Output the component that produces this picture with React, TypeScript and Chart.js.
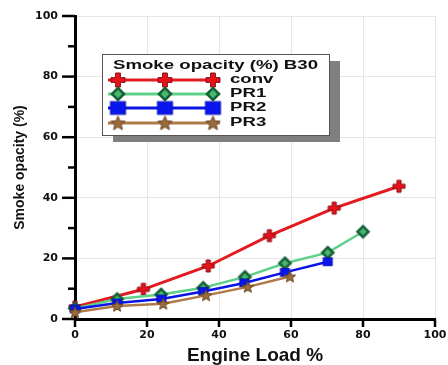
import React, { useEffect, useRef } from 'react';
import { Chart, registerables } from 'chart.js';
Chart.register(...registerables);

const LEGEND_TITLE = 'Smoke opacity (%) B30';
const X_TITLE = 'Engine Load %';
const Y_TITLE = 'Smoke opacity (%)';
const SERIES_NAMES = ['conv', 'PR1', 'PR2', 'PR3'];

const CONV_X = [0, 19, 37, 54, 72, 90];
const CONV_Y = [4, 9.8, 17.5, 27.5, 36.6, 43.8];
const PR1_X = [0, 11.7, 23.9, 35.6, 47.2, 58.3, 70.2, 80];
const PR1_Y = [3.5, 6.6, 8.1, 10.3, 13.9, 18.4, 21.9, 28.8];
const PR2_X = [0, 11.7, 24, 35.6, 47, 58.3, 70.2];
const PR2_Y = [3.3, 5.3, 6.6, 9.1, 11.9, 15.4, 18.9];
const PR3_X = [0, 11.7, 24.5, 36.4, 48, 59.7];
const PR3_Y = [2.2, 4.3, 5.0, 7.8, 10.6, 14.0];

const X_TICKS = [0, 20, 40, 60, 80, 100];
const Y_MAJOR_STEP = 20;
const Y_MINOR_STEP = 10;

const FONT = '"Liberation Sans", Arial, sans-serif';
const TICK_FONT = '"DejaVu Sans", "Liberation Sans", sans-serif';

type Kind = 'plus' | 'diamond' | 'square' | 'star';

function makeMarker(kind: Kind, s: number): HTMLCanvasElement {
  const pad = 3;
  const c = document.createElement('canvas');
  const size = Math.ceil(s + pad * 2);
  c.width = size;
  c.height = size;
  const g = c.getContext('2d')!;
  const m = size / 2;
  const r = s / 2;
  g.lineJoin = 'miter';
  if (kind === 'plus') {
    const t = s * 0.17;
    g.beginPath();
    g.moveTo(m - t, m - r);
    g.lineTo(m + t, m - r);
    g.lineTo(m + t, m - t);
    g.lineTo(m + r, m - t);
    g.lineTo(m + r, m + t);
    g.lineTo(m + t, m + t);
    g.lineTo(m + t, m + r);
    g.lineTo(m - t, m + r);
    g.lineTo(m - t, m + t);
    g.lineTo(m - r, m + t);
    g.lineTo(m - r, m - t);
    g.lineTo(m - t, m - t);
    g.closePath();
    g.fillStyle = '#e5121b';
    g.fill();
    g.strokeStyle = '#8c1015';
    g.lineWidth = 1;
    g.stroke();
  } else if (kind === 'diamond') {
    g.beginPath();
    g.moveTo(m, m - r);
    g.lineTo(m + r, m);
    g.lineTo(m, m + r);
    g.lineTo(m - r, m);
    g.closePath();
    g.fillStyle = '#49b86a';
    g.fill();
    g.strokeStyle = '#17623a';
    g.lineWidth = 2.6;
    g.stroke();
  } else if (kind === 'square') {
    g.fillStyle = '#0a16ee';
    g.fillRect(m - r, m - r * 0.85, s, s * 0.85);
    g.strokeStyle = '#0610b0';
    g.lineWidth = 1;
    g.strokeRect(m - r, m - r * 0.85, s, s * 0.85);
  } else {
    g.beginPath();
    for (let i = 0; i < 10; i++) {
      const ang = -Math.PI / 2 + (i * Math.PI) / 5;
      const rr = i % 2 === 0 ? r : r * 0.45;
      const px = m + rr * Math.cos(ang);
      const py = m + rr * Math.sin(ang) + r * 0.08;
      if (i === 0) g.moveTo(px, py);
      else g.lineTo(px, py);
    }
    g.closePath();
    g.fillStyle = '#9a6b3c';
    g.fill();
    g.strokeStyle = '#6a4522';
    g.lineWidth = 1;
    g.stroke();
  }
  return c;
}

function zip(xs: number[], ys: number[]) {
  return xs.map((x, i) => ({ x, y: ys[i] }));
}

export default function App() {
  const ref = useRef<HTMLCanvasElement>(null);

  useEffect(() => {
    document.body.style.margin = '0';
    const canvas = ref.current!;
    const kinds: Kind[] = ['plus', 'diamond', 'square', 'star'];
    const lineColors = ['#e31a1f', '#5fd08a', '#0a14e6', '#b07a48'];
    const plotSizes = [12, 11, 9, 12];
    const legendSizes = [14, 12, 15, 15];
    const lineWidths = [3, 2.5, 2.5, 2.5];
    const xs = [CONV_X, PR1_X, PR2_X, PR3_X];
    const ys = [CONV_Y, PR1_Y, PR2_Y, PR3_Y];

    const datasets = SERIES_NAMES.map((name, i) => ({
      label: name,
      data: zip(xs[i], ys[i]),
      borderColor: lineColors[i],
      backgroundColor: lineColors[i],
      borderWidth: lineWidths[i],
      pointStyle: makeMarker(kinds[i], plotSizes[i]),
      pointRadius: plotSizes[i] / 2,
      tension: 0,
      clip: false as const,
    }));

    const axisPlugin = {
      id: 'axisTicks',
      afterDraw(chart: any) {
        const ctx = chart.ctx;
        const xs_ = chart.scales.x;
        const ys_ = chart.scales.y;
        const area = chart.chartArea;
        ctx.save();
        ctx.strokeStyle = '#000';
        ctx.lineWidth = 2.5;
        ctx.lineCap = 'butt';
        for (let v = 0; v <= 100; v += Y_MINOR_STEP) {
          const py = ys_.getPixelForValue(v);
          const len = v % Y_MAJOR_STEP === 0 ? 13 : 7;
          ctx.beginPath();
          ctx.moveTo(area.left - len, py);
          ctx.lineTo(area.left, py);
          ctx.stroke();
        }
        for (const v of X_TICKS) {
          const px = xs_.getPixelForValue(v);
          ctx.beginPath();
          ctx.moveTo(px, area.bottom);
          ctx.lineTo(px, area.bottom + 8);
          ctx.stroke();
        }
        // legend
        const bx = area.left + 27;
        const by = area.top + 38;
        const bw = 227;
        const bh = 81;
        ctx.fillStyle = '#7f7f7f';
        ctx.fillRect(bx + 11, by + 7, bw, bh);
        ctx.fillStyle = '#ffffff';
        ctx.fillRect(bx, by, bw, bh);
        ctx.strokeStyle = '#555';
        ctx.lineWidth = 1;
        ctx.strokeRect(bx + 0.5, by + 0.5, bw, bh);

        ctx.textBaseline = 'middle';
        ctx.textAlign = 'left';
        ctx.font = `bold 12px ${FONT}`;
        const w0 = ctx.measureText(LEGEND_TITLE).width;
        const sx = 205 / w0;
        const drawStretched = (text: string, x: number, y: number) => {
          ctx.save();
          ctx.translate(x, y);
          ctx.scale(sx, 1);
          ctx.fillStyle = '#111';
          ctx.fillText(text, 0, 0);
          ctx.restore();
        };
        drawStretched(LEGEND_TITLE, bx + 11, by + 12);
        const rowYs = [26, 40, 54, 69];
        datasets.forEach((ds, i) => {
          const ry = by + rowYs[i];
          ctx.strokeStyle = lineColors[i];
          ctx.lineWidth = 3;
          ctx.beginPath();
          ctx.moveTo(bx + 6, ry);
          ctx.lineTo(bx + 118, ry);
          ctx.stroke();
          const mk = makeMarker(kinds[i], legendSizes[i]);
          for (const mx of [16, 63, 111]) {
            ctx.drawImage(mk, bx + mx - mk.width / 2, ry - mk.height / 2);
          }
          drawStretched(ds.label, bx + 128, ry);
        });
        ctx.restore();
      },
    };

    const chart = new Chart(canvas, {
      type: 'line',
      data: { datasets: [datasets[3], datasets[2], datasets[1], datasets[0]] },
      options: {
        animation: false,
        responsive: false,
        devicePixelRatio: 1,
        layout: { padding: { top: 16, right: 13, left: 0, bottom: 0 } },
        plugins: { legend: { display: false }, tooltip: { enabled: false } },
        scales: {
          x: {
            type: 'linear',
            min: 0,
            max: 100,
            afterFit: (s: any) => {
              s.height = 46;
              s.paddingLeft = 0;
              s.paddingRight = 0;
            },
            afterBuildTicks: (s: any) => {
              s.ticks = X_TICKS.map((v) => ({ value: v }));
            },
            ticks: {
              color: '#111',
              font: { family: TICK_FONT, size: 11, weight: 'bold' },
              padding: 10,
              maxRotation: 0,
            },
            grid: { color: '#e6e6e6', drawTicks: false, lineWidth: 1 },
            border: { color: '#000', width: 3 },
            title: {
              display: true,
              text: X_TITLE,
              color: '#111',
              font: { family: FONT, size: 19, weight: 'bold', lineHeight: 1 },
              padding: { top: 0, bottom: 0 },
            },
          },
          y: {
            type: 'linear',
            min: 0,
            max: 100,
            afterFit: (s: any) => {
              s.width = 75;
              s.paddingTop = 0;
              s.paddingBottom = 0;
            },
            ticks: {
              stepSize: Y_MINOR_STEP,
              color: '#111',
              font: { family: TICK_FONT, size: 11, weight: 'bold' },
              padding: 17,
              callback: (v: any) => (Number(v) % Y_MAJOR_STEP === 0 ? String(v) : ''),
            },
            grid: {
              drawTicks: false,
              lineWidth: 1,
              color: (c: any) =>
                c.tick && c.tick.value % Y_MAJOR_STEP === 0 ? '#e6e6e6' : 'rgba(0,0,0,0)',
            },
            border: { color: '#000', width: 3 },
            title: {
              display: true,
              text: Y_TITLE,
              color: '#111',
              font: { family: FONT, size: 14, weight: 'bold' },
              padding: { top: 12, bottom: 0 },
            },
          },
        },
      },
      plugins: [axisPlugin],
    } as any);
    return () => chart.destroy();
  }, []);

  return (
    <div style={{ position: 'absolute', left: 0, top: 0, width: 448, height: 365, background: '#fff' }}>
      <canvas ref={ref} width={448} height={365} />
    </div>
  );
}
